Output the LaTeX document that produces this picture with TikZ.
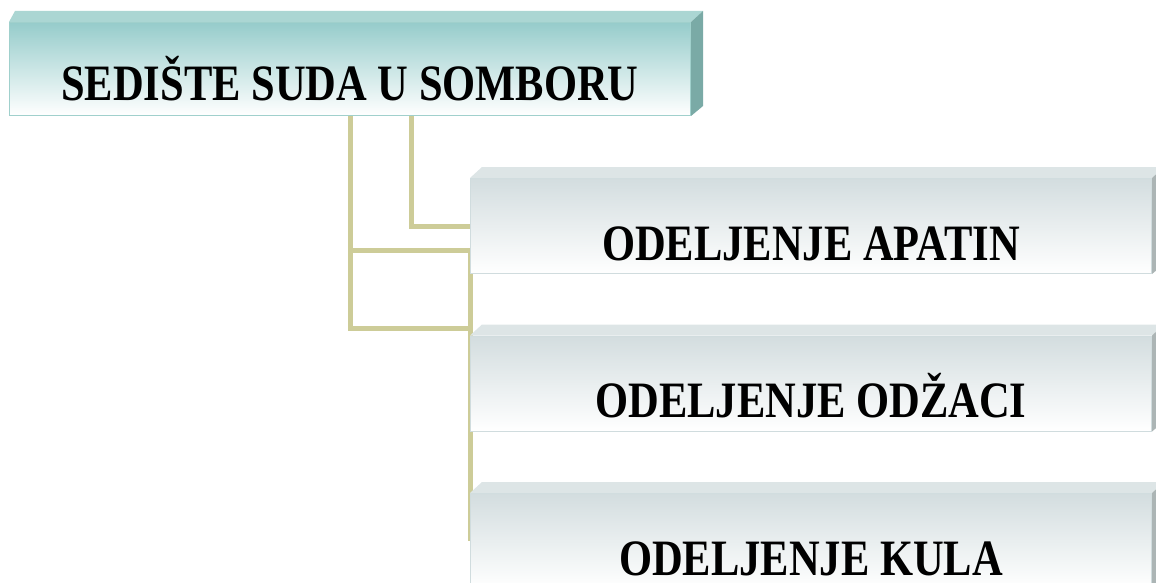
\documentclass[tikz,border=0pt]{standalone}
\usepackage{fontspec}
\usepackage{graphicx}
\setmainfont{Liberation Serif}
\usetikzlibrary{backgrounds}
\usetikzlibrary{calc}
\definecolor{headtop}{RGB}{150,204,203}
\definecolor{headline}{RGB}{160,208,204}
\definecolor{headlid}{RGB}{171,214,211}
\definecolor{headside}{RGB}{122,170,166}
\definecolor{unittop}{RGB}{211,221,223}
\definecolor{unitline}{RGB}{208,220,222}
\definecolor{unitlid}{RGB}{221,229,230}
\definecolor{unitside}{RGB}{172,181,181}
\definecolor{linkcol}{RGB}{205,204,152}
\tikzset{x=1pt,y=-1pt,
 unit/.style={draw=unitline,line width=1pt,inner sep=0pt,anchor=north west,
  minimum width=681pt,minimum height=95pt,top color=unittop,bottom color=white,
  font=\fontsize{42.5}{42.5}\selectfont\bfseries,text height=70pt,text depth=2pt},
 head/.style={unit,draw=headline,top color=headtop,minimum height=93pt,text height=65pt},
 link/.style={draw=linkcol,line width=5pt},
 }
\newcommand{\tallcaps}[1]{\scalebox{1}[1.2]{#1}}
% lid and side of a box: node, left bevel, lid colour, side colour
\newcommand{\boxfaces}[4]{%
  \fill[#3] (#1.north west) -- ++(#2,-11) -- ($(#1.north east)+(12,-11)$) -- (#1.north east) -- cycle;
  \fill[#4] (#1.north east) -- ++(12,-11) -- ($(#1.south east)+(12,-10)$) -- (#1.south east) -- cycle;
}
\begin{document}
\begin{tikzpicture}
    \useasboundingbox (0,0) rectangle (1156,583);
    \clip (0,0) rectangle (1156,583);
    \node[head] (sediste) at (9,22) {\tallcaps{SEDIŠTE SUDA U SOMBORU}};
    \node[unit] (apatin) at (470,178) {\tallcaps{ODELJENJE APATIN}};
    \node[unit] (odzaci) at (470,335.5) {\tallcaps{ODELJENJE ODŽACI}};
    \node[unit] (kula) at (470,493) {\tallcaps{ODELJENJE KULA}};
    \boxfaces{sediste}{6}{headlid}{headside}
    \boxfaces{apatin}{12}{unitlid}{unitside}
    \boxfaces{odzaci}{12}{unitlid}{unitside}
    \boxfaces{kula}{12}{unitlid}{unitside}
    \begin{scope}[on background layer]
        \draw[link] ([xshift=61pt]sediste.south) |- (apatin.west);
        \draw[link] (sediste.south) -- ++(0,134) -| (odzaci.west);
        \draw[link] (sediste.south) -- ++(0,212) -| (kula.west);
    \end{scope}
\end{tikzpicture}
\end{document}
